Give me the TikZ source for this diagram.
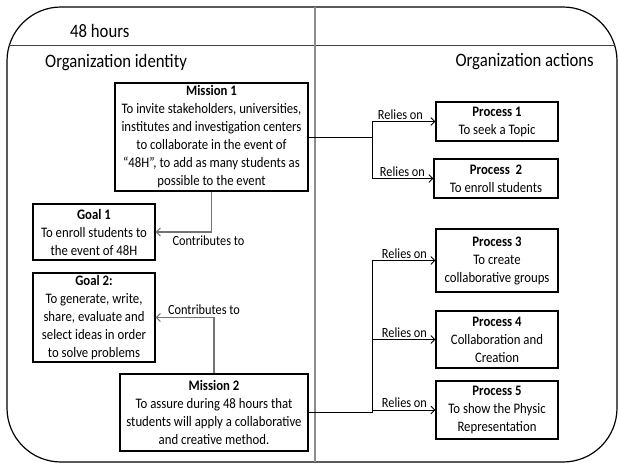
\documentclass[tikz,border=0pt]{standalone}
\usepackage{fontspec}
\setmainfont{Carlito}[FakeStretch=0.88]
\usetikzlibrary{arrows.meta}

\tikzset{
  box/.style={draw=black, line width=1.3pt, align=center, inner sep=0pt,
    font=\fontsize{14.5}{18}\selectfont},
  lbl/.style={font=\fontsize{14}{16}\selectfont, inner sep=2pt},
  head/.style={font=\fontsize{19}{22}\selectfont, inner sep=0pt},
  rel/.style={draw=black, line width=0.8pt, -{Straight Barb[length=4pt,width=8pt]}},
  contrib/.style={draw=black!55, line width=1.1pt, -{Straight Barb[length=4pt,width=8pt]}},
}

\begin{document}
\begin{tikzpicture}[x=1pt, y=-1pt]
		\useasboundingbox (0,0) rectangle (619,464);
		%%%%% frame %%%%%
		\draw[line width=1.2pt, rounded corners=54pt] (7,7) rectangle (617,462);
		\begin{scope}
			\clip[rounded corners=54pt] (7,7) rectangle (617,462);
			\draw[black!75, line width=0.8pt] (0,45) -- (619,45);
		\end{scope}
		\draw[black!45, line width=1.2pt] (315,7) -- (315,462);
		
		\node[head, anchor=west] (hours) at (70,31) {48 hours};
		\node[head, anchor=west] (ident) at (45,63) {Organization identity};
		\node[head, anchor=east] (acts) at (594,62) {Organization actions};
		
		%%%%% identity %%%%%
		\node[box, minimum width=193pt, minimum height=108pt] (m1) at (211.5,137)
			{\textbf{Mission 1}\\To invite stakeholders, universities,\\institutes and investigation centers\\to collaborate in the event of\\``48H'', to add as many students as\\possible to the event};
		\node[box, minimum width=122pt, minimum height=56pt] (g1) at (94,232)
			{\textbf{Goal 1}\\To enroll students to\\the event of 48H};
		\node[box, minimum width=122pt, minimum height=89pt] (g2) at (94,317.5)
			{\textbf{Goal 2:}\\To generate, write,\\share, evaluate and\\select ideas in order\\to solve problems};
		\node[box, minimum width=188pt, minimum height=77pt] (m2) at (214,412.5)
			{\textbf{Mission 2}\\To assure during 48 hours that\\students will apply a collaborative\\and creative method.};
		
		%%%%% actions %%%%%
		\node[box, minimum width=122pt, minimum height=39pt] (p1) at (497,121.5)
			{\textbf{Process 1}\\To seek a Topic};
		\node[box, minimum width=124pt, minimum height=39pt] (p2) at (496,178.5)
			{\textbf{Process\ \ 2}\\To enroll students};
		\node[box, minimum width=122pt, minimum height=63pt] (p3) at (497,260.5)
			{\textbf{Process 3}\\To create\\collaborative groups};
		\node[box, minimum width=122pt, minimum height=57pt] (p4) at (497,339.5)
			{\textbf{Process 4}\\Collaboration and\\Creation};
		\node[box, minimum width=122pt, minimum height=58pt] (p5) at (497,410)
			{\textbf{Process 5}\\To show the Physic\\Representation};
		
		%%%%% connectors %%%%%
		\coordinate (j1) at (372,137);
		\coordinate (j2) at (372,412.5);
		\draw[line width=0.8pt] (m1.east) -- (j1);
		\draw[rel] (j1) |- (p1.west) node[lbl, pos=1, above left, xshift=-10pt] (r1) {Relies on};
		\draw[rel] (j1) |- (p2.west) node[lbl, pos=1, above left, xshift=-6pt] (r2) {Relies on};
		\draw[line width=0.8pt] (m2.east) -- (j2);
		\draw[rel] (j2) |- (p3.west) node[lbl, pos=1, above left, xshift=-6pt] (r3) {Relies on};
		\draw[rel] (j2) |- (p4.west) node[lbl, pos=1, above left, xshift=-6pt] (r4) {Relies on};
		\draw[rel] (j2) |- (p5.west) node[lbl, pos=1, above left, xshift=-6pt] (r5) {Relies on};
		
		\draw[contrib] (m1.south) |- (g1.east) node[lbl, pos=0.5, below, xshift=-3pt, yshift=-1pt] (c1) {Contributes to};
		\draw[contrib] (m2.north) |- (g2.east) node[lbl, pos=0.5, above, xshift=-10pt] (c2) {Contributes to};
	\end{tikzpicture}
\end{document}
